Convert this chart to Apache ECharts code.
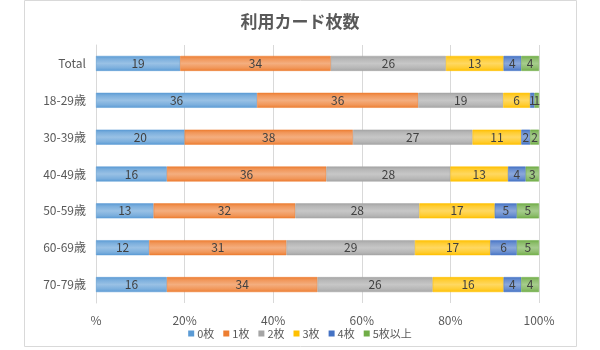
<!DOCTYPE html>
<html><head><meta charset="utf-8">
<script src="https://cdn.jsdelivr.net/npm/echarts@6/dist/echarts.min.js"></script>
<style>html,body{margin:0;padding:0;background:#fff}#c{width:600px;height:350px}</style>
</head><body><div id="c"></div>
<script>
const title = '利用カード枚数';
const categories = ['Total','18-29歳','30-39歳','40-49歳','50-59歳','60-69歳','70-79歳'];
const seriesNames = ['0枚','1枚','2枚','3枚','4枚','5枚以上'];
const v0 = [19,36,20,16,13,12,16];
const v1 = [34,36,38,36,32,31,34];
const v2 = [26,19,27,28,28,29,26];
const v3 = [13,6,11,13,17,17,16];
const v4 = [4,1,2,4,5,6,4];
const v5 = [4,1,2,3,5,5,4];
const xTicks = ['%','20%','40%','60%','80%','100%'];

const values = [v0,v1,v2,v3,v4,v5];
const colors = ['#5B9BD5','#ED7D31','#A5A5A5','#FFC000','#4472C4','#70AD47'];
function mix(hex, t){
  const n = parseInt(hex.slice(1),16);
  const r=(n>>16)&255,g=(n>>8)&255,b=n&255;
  const f=c=>Math.round(c+(255-c)*t);
  return 'rgb('+f(r)+','+f(g)+','+f(b)+')';
}
const totals = categories.map((_,i)=>values.reduce((s,a)=>s+a[i],0));
const series = seriesNames.map((name,k)=>({
  name, type:'bar', stack:'all', barWidth:15,
  data: values[k].map((v,i)=>({value: v/totals[i]*100, raw: v})),
  itemStyle:{
    color: new echarts.graphic.LinearGradient(0,0,0,1,[
      {offset:0,color:colors[k]},
      {offset:0.2,color:mix(colors[k],0.2)},
      {offset:0.5,color:mix(colors[k],0.38)},
      {offset:0.8,color:mix(colors[k],0.2)},
      {offset:1,color:colors[k]}
    ]),
    borderColor: colors[k], borderWidth: 0.5
  },
  label:{show:true, position:'inside', color:'#404040', fontSize:12,
    fontFamily:'Noto Sans CJK JP',
    formatter:p=>p.data.raw}
}));
const chart = echarts.init(document.getElementById('c'));
chart.setOption({
  animation:false,
  color: colors,
  title:{text:title, left:'center', top:8,
    textStyle:{fontSize:17,fontWeight:'bold',color:'#595959',fontFamily:'Noto Sans CJK JP'}},
  graphic:[{type:'rect', shape:{x:24.5,y:0.5,width:552,height:346},
    style:{fill:'none',stroke:'#d9d9d9',lineWidth:1}, silent:true}],
  grid:{left:96,right:61,top:45,bottom:47,containLabel:false},
  xAxis:{type:'value', min:0, max:100, interval:20,
    axisLine:{show:false}, axisTick:{show:false},
    splitLine:{lineStyle:{color:'#d9d9d9'}},
    axisLabel:{color:'#595959',fontSize:12,margin:11,fontFamily:'Noto Sans CJK JP',
      formatter:v=>xTicks[Math.round(v/20)]}},
  yAxis:{type:'category', data:categories, inverse:true,
    axisLine:{show:true,lineStyle:{color:'#d9d9d9'}}, axisTick:{show:false},
    axisLabel:{color:'#595959',fontSize:12,margin:10,fontFamily:'Noto Sans CJK JP'}},
  legend:{bottom:6, left:'center', itemWidth:6, itemHeight:6, itemGap:9, icon:'rect',
    textStyle:{color:'#595959',fontSize:11,fontFamily:'Noto Sans CJK JP',padding:[0,0,0,-2]},
    data:seriesNames.map((n,k)=>({name:n,itemStyle:{color:colors[k],borderWidth:0}}))},
  series
});
</script></body></html>
